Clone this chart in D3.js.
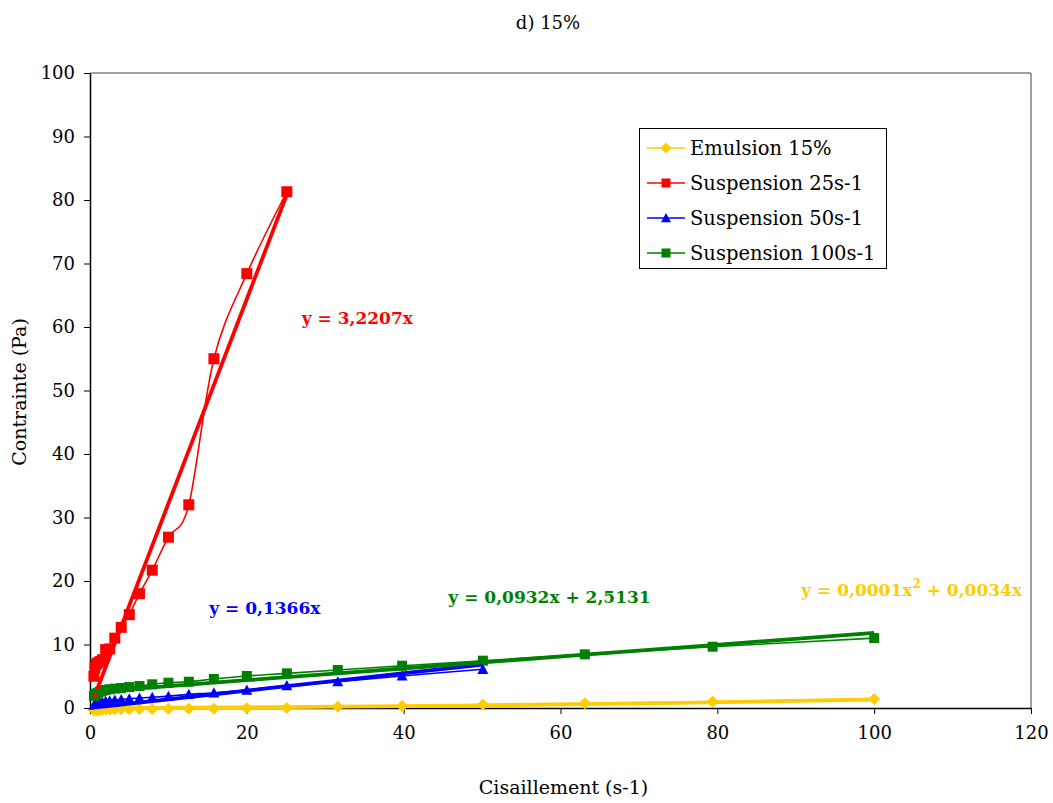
<!DOCTYPE html>
<html>
<head>
<meta charset="utf-8">
<script src="https://cdn.jsdelivr.net/npm/d3@7"></script>
<style>
  html, body { margin: 0; padding: 0; background: #fff; }
  svg { display: block; }
  text { font-family: "DejaVu Serif", "Liberation Serif", serif; }
</style>
</head>
<body>
<svg id="chart" width="1053" height="803"></svg>
<script>
// ---------------- DATA ----------------
const title = "d) 15%";
const xLabel = "Cisaillement (s-1)";
const yLabel = "Contrainte (Pa)";
const xTicks = [0, 20, 40, 60, 80, 100, 120];
const yTicks = [0, 10, 20, 30, 40, 50, 60, 70, 80, 90, 100];

// shear rates (s-1), log-spaced
const shear = [0.501, 0.631, 0.794, 1, 1.26, 1.58, 2, 2.51, 3.16, 3.98, 5.01, 6.31, 7.94, 10,
               12.6, 15.8, 20, 25.1, 31.6, 39.8, 50.1, 63.1, 79.4, 100];

const seriesNames = ["Emulsion 15%", "Suspension 25s-1", "Suspension 50s-1", "Suspension 100s-1"];

const emulsion = [-0.35, -0.33, -0.31, -0.3, -0.28, -0.27, -0.25, -0.23, -0.21, -0.2, -0.18, -0.16,
                  -0.15, -0.13, -0.12, -0.1, -0.05, 0.0, 0.18, 0.33, 0.55, 0.74, 1.0, 1.42];
const susp25 = [5.0, 6.3, 6.9, 7.1, 7.3, 7.6, 9.2, 9.3, 11.0, 12.7, 14.7, 18.0, 21.7, 26.9,
                32.0, 55.0, 68.4, 81.3];
const susp50 = [0.45, 0.55, 0.65, 0.75, 0.85, 0.95, 1.05, 1.15, 1.25, 1.35, 1.45, 1.58, 1.7, 1.87,
                2.15, 2.4, 2.83, 3.55, 4.15, 5.05, 6.1];
const susp100 = [1.9, 2.1, 2.25, 2.4, 2.55, 2.7, 2.85, 2.95, 3.05, 3.15, 3.3, 3.46, 3.73, 3.98,
                 4.14, 4.57, 5.04, 5.46, 5.98, 6.66, 7.45, 8.45, 9.65, 11.0];

// trendline coefficients  y = a*x^2 + b*x + c
const trendEmulsion = [0.0001, 0.0034, 0];
const trend25 = [0, 3.2207, 0];
const trend50 = [0, 0.1366, 0];
const trend100 = [0, 0.0932, 2.5131];

const eqEmulsion = ["y = 0,0001x", "2", " + 0,0034x"];
const eq25 = "y = 3,2207x";
const eq50 = "y = 0,1366x";
const eq100 = "y = 0,0932x + 2,5131";

// ---------------- CHART ----------------
(function () {
const svg = d3.select("#chart");
const mL = 90, mR = 1031, mT = 73, mB = 708;
const x = d3.scaleLinear().domain([0, 120]).range([mL, mR]);
const y = d3.scaleLinear().domain([0, 100]).range([mB, mT]);

const colors = ["#FFCC00", "#FF0000", "#0000FF", "#008000"];
const shapes = ["diamond", "square", "triangle", "square"];
const values = [emulsion, susp25, susp50, susp100];
const trends = [trendEmulsion, trend25, trend50, trend100];

// frame
svg.append("line").attr("x1", mL).attr("x2", mR).attr("y1", mT).attr("y2", mT)
  .attr("stroke", "#808080").attr("stroke-width", 1.5);
svg.append("line").attr("x1", mR).attr("x2", mR).attr("y1", mT).attr("y2", mB)
  .attr("stroke", "#808080").attr("stroke-width", 1.5);

// axes
const xAxis = d3.axisBottom(x).tickValues(xTicks).tickSize(6).tickSizeOuter(0).tickPadding(12)
  .tickFormat(d3.format("d"));
const gx = svg.append("g").attr("transform", `translate(0,${mB})`).call(xAxis);
gx.select(".domain").attr("stroke", "#000").attr("stroke-width", 1.5);
gx.selectAll(".tick line").attr("stroke", "#000");
gx.selectAll("text").attr("font-size", 18).attr("fill", "#000")
  .style("font-family", '"DejaVu Serif", serif');

const yAxis = d3.axisLeft(y).tickValues(yTicks).tickSize(6).tickSizeOuter(0).tickPadding(9)
  .tickFormat(d3.format("d"));
const gy = svg.append("g").attr("transform", `translate(${mL},0)`).call(yAxis);
gy.select(".domain").attr("stroke", "#000").attr("stroke-width", 1.5);
gy.selectAll(".tick line").attr("stroke", "#000");
gy.selectAll("text").attr("font-size", 18).attr("fill", "#000")
  .style("font-family", '"DejaVu Serif", serif');

// titles
svg.append("text").attr("x", 548).attr("y", 29).attr("text-anchor", "middle")
  .attr("font-size", 18).text(title);
svg.append("text").attr("x", (mL + mR) / 2 + 3).attr("y", 794).attr("text-anchor", "middle")
  .attr("font-size", 19).text(xLabel);
svg.append("text").attr("transform", "translate(26,392) rotate(-90)").attr("text-anchor", "middle")
  .attr("font-size", 19).text(yLabel);

// marker generator
function marker(g, shape, color, cx, cy, s) {
  if (shape === "square") {
    g.append("rect").attr("x", cx - s / 2).attr("y", cy - s / 2).attr("width", s).attr("height", s)
      .attr("fill", color);
  } else if (shape === "diamond") {
    const h = s / 2 + 1;
    g.append("path").attr("d", `M${cx},${cy - h}L${cx + h},${cy}L${cx},${cy + h}L${cx - h},${cy}Z`)
      .attr("fill", color);
  } else {
    const h = s / 2 + 0.5;
    g.append("path").attr("d", `M${cx},${cy - h}L${cx + h},${cy + h * 0.85}L${cx - h},${cy + h * 0.85}Z`)
      .attr("fill", color);
  }
}
const markerSize = [10, 11, 10, 10];

const line = d3.line().x(d => x(d[0])).y(d => y(d[1])).curve(d3.curveCatmullRom.alpha(0));

// data series
values.forEach((vals, i) => {
  const pts = vals.map((v, k) => [shear[k], v]);
  const g = svg.append("g");
  g.append("path").attr("d", line(pts)).attr("fill", "none")
    .attr("stroke", colors[i]).attr("stroke-width", 1.6);
  pts.forEach(p => marker(g, shapes[i], colors[i], x(p[0]), y(p[1]), markerSize[i]));
});

// trendlines
const tline = d3.line().x(d => x(d[0])).y(d => y(d[1]));
values.forEach((vals, i) => {
  const [a, b, c] = trends[i];
  const xs = shear.slice(0, vals.length);
  const pts = xs.map(xv => [xv, a * xv * xv + b * xv + c]);
  svg.append("path").attr("d", tline(pts)).attr("fill", "none")
    .attr("stroke", colors[i]).attr("stroke-width", 3.8).attr("stroke-linejoin", "round");
});

// equations
const eqFont = 17;
function eq(txt, color, dx, dy) {
  svg.append("text").attr("x", x(dx)).attr("y", y(dy)).attr("font-size", eqFont)
    .attr("font-weight", "bold").attr("fill", color).text(txt);
}
eq(eq25, colors[1], 27.0, 60.5);
eq(eq50, colors[2], 15.2, 14.8);
eq(eq100, colors[3], 45.7, 16.5);
const te = svg.append("text").attr("x", x(90.7)).attr("y", y(17.6)).attr("font-size", eqFont)
  .attr("font-weight", "bold").attr("fill", colors[0]);
te.append("tspan").text(eqEmulsion[0]);
te.append("tspan").attr("dy", -8).attr("font-size", 12).text(eqEmulsion[1]);
te.append("tspan").attr("dy", 8).text(eqEmulsion[2]);

// legend
const lg = svg.append("g");
lg.append("rect").attr("x", 639.5).attr("y", 128.5).attr("width", 247).attr("height", 140)
  .attr("fill", "#fff").attr("stroke", "#000").attr("stroke-width", 1);
const rowY = [148, 183, 218, 253];
seriesNames.forEach((name, i) => {
  const cy = rowY[i];
  lg.append("line").attr("x1", 647).attr("x2", 685).attr("y1", cy).attr("y2", cy)
    .attr("stroke", colors[i]).attr("stroke-width", 1.6);
  marker(lg, shapes[i], colors[i], 666, cy, 9);
  lg.append("text").attr("x", 690).attr("y", cy + 7).attr("font-size", 19.5).attr("fill", "#000")
    .text(name);
});
})();
</script>
</body>
</html>
